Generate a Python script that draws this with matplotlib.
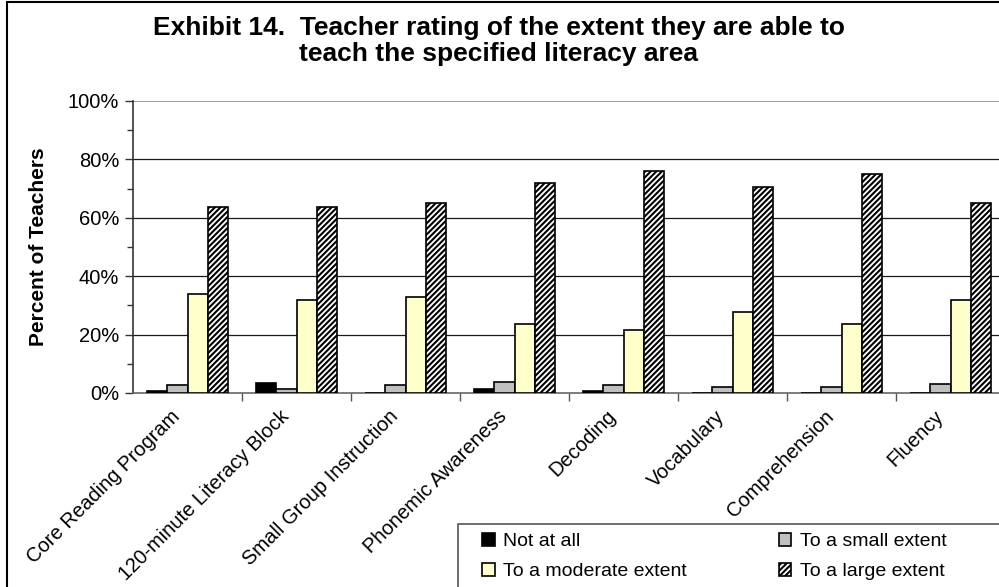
import numpy as np
import matplotlib.pyplot as plt
import matplotlib.transforms as mtransforms
from matplotlib.patches import Rectangle
from matplotlib.ticker import MultipleLocator, FixedLocator, PercentFormatter

plt.rcParams['font.family'] = ['Liberation Sans', 'DejaVu Sans']
plt.rcParams['hatch.linewidth'] = 1.5

# Literacy areas on the x axis
areas = ["Core Reading Program", "120-minute Literacy Block", "Small Group Instruction",
         "Phonemic Awareness", "Decoding", "Vocabulary", "Comprehension", "Fluency"]

# Percent of teachers giving each rating
not_at_all = [0.8, 3.3, 0.0, 1.3, 0.8, 0.0, 0.0, 0.0]
small_extent = [2.6, 1.3, 2.6, 3.8, 2.6, 1.9, 1.9, 3.1]
moderate_extent = [33.8, 31.8, 32.8, 23.5, 21.6, 27.6, 23.5, 31.8]
large_extent = [63.8, 63.8, 65.0, 71.8, 76.0, 70.7, 74.9, 65.0]

series = [
    ("Not at all", not_at_all, "#000000", None),
    ("To a small extent", small_extent, "#C0C0C0", None),
    ("To a moderate extent", moderate_extent, "#FFFFCC", None),
    ("To a large extent", large_extent, "#FFFFFF", "//////"),
]

fig = plt.figure(figsize=(9.99, 5.87), dpi=100)
ax = fig.add_axes([133 / 999, 194 / 587, 872 / 999, 292 / 587])

x = np.arange(len(areas))
width = 0.185
handles = []
for i, (label, values, color, hatch) in enumerate(series):
    bars = ax.bar(x + (i - 1.5) * width, values, width, color=color, edgecolor="black",
                  linewidth=1.2, hatch=hatch, label=label, zorder=3)
    handles.append(bars)

ax.set_xlim(-0.5, len(areas) - 0.5)
ax.set_ylim(0, 100)

# gridlines at 20% steps, the top one lighter
for y in [20, 40, 60, 80]:
    ax.axhline(y, color="#1a1a1a", linewidth=0.9, zorder=1)
ax.axhline(100, color="#8c8c8c", linewidth=1.2, zorder=1)

ax.yaxis.set_major_locator(MultipleLocator(20))
ax.yaxis.set_minor_locator(MultipleLocator(10))
ax.yaxis.set_major_formatter(PercentFormatter(decimals=0))
ax.tick_params(axis="y", which="major", length=6, width=1, labelsize=14.5, pad=4, color="#333333")
ax.tick_params(axis="y", which="minor", length=4, width=1, color="#333333")

# category labels at the centres, tick marks at the boundaries
ax.set_xticks(x)
ax.set_xticklabels(areas, rotation=45, ha="right", rotation_mode="anchor", fontsize=14.5)
ax.xaxis.set_minor_locator(FixedLocator(np.arange(len(areas)) + 0.5))
ax.tick_params(axis="x", which="major", length=0, pad=4)
ax.tick_params(axis="x", which="minor", length=6, width=1, color="#555555")
# nudge the slanted labels so their ends sit just left of the category centre
shift = mtransforms.ScaledTranslation(-0.17, -0.08, fig.dpi_scale_trans)
for lbl in ax.get_xticklabels():
    lbl.set_transform(lbl.get_transform() + shift)

for side in ["top", "right"]:
    ax.spines[side].set_visible(False)
ax.spines["left"].set_color("#333333")
ax.spines["left"].set_linewidth(1.2)
ax.spines["bottom"].set_color("#666666")
ax.spines["bottom"].set_linewidth(1.2)

ax.set_ylabel("Percent of Teachers", fontsize=15, fontweight="bold")
ax.yaxis.set_label_coords(-0.097, 0.5)

fig.text(0.499, 1 - 41 / 587,
         "Exhibit 14.  Teacher rating of the extent they are able to\nteach the specified literacy area",
         ha="center", va="center", fontsize=19, fontweight="bold", linespacing=1.1)

# legend rows: Not at all / small, moderate / large
order = [0, 2, 1, 3]
leg = fig.legend(handles=[handles[i] for i in order], loc="upper left",
                 bbox_to_anchor=(482 / 999, 1 - 533 / 587),
                 ncol=2, fontsize=14, frameon=False, borderaxespad=0, borderpad=0,
                 handlelength=0.65, handleheight=0.65, handletextpad=0.45,
                 columnspacing=4.7, labelspacing=0.65)

# legend box, running off the chart edge
fig.patches.append(Rectangle((458 / 999, -0.1), 1.0, (587 - 524) / 587 + 0.1,
                             transform=fig.transFigure, fill=False, edgecolor="#555555",
                             linewidth=1.2, clip_on=False))

# outer chart border
fig.patches.append(Rectangle((7 / 999, -0.1), 1.1, 1.1 - 2 / 587, transform=fig.transFigure,
                             fill=False, edgecolor="black", linewidth=1.5, clip_on=False))

fig.savefig("out.png", dpi=100)
